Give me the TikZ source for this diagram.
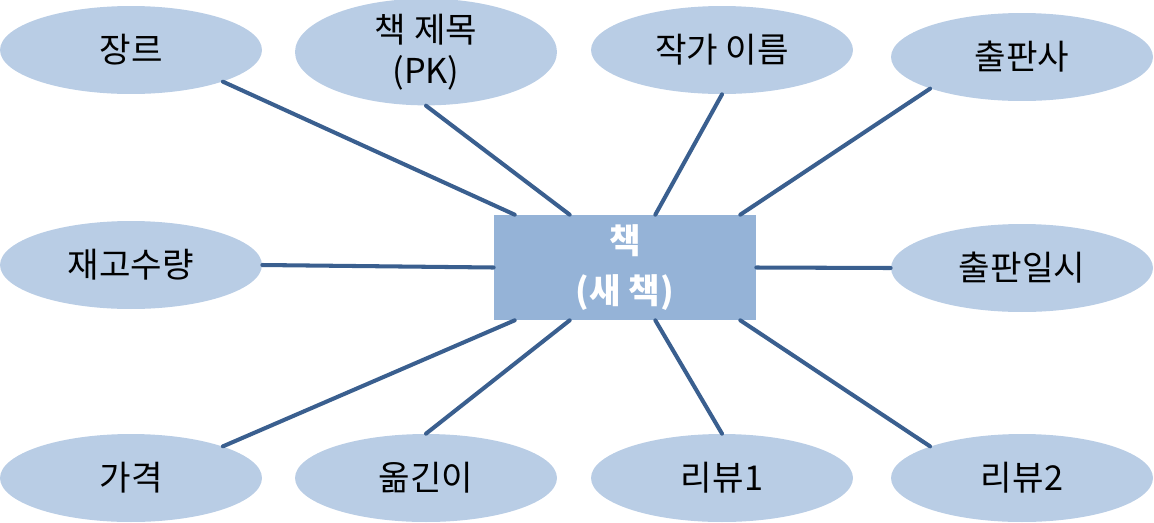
\documentclass[tikz,border=0pt]{standalone}
\usepackage{fontspec}
\setmainfont{Noto Sans CJK KR}
\usetikzlibrary{shapes.geometric}
\definecolor{attrfill}{HTML}{B9CDE5}
\definecolor{entfill}{HTML}{95B3D7}
\definecolor{linkcol}{HTML}{3A5F8F}

\begin{document}
\begin{tikzpicture}[x=0.02cm, y=-0.02cm, line join=round, line cap=round,
  attr/.style={ellipse, fill=attrfill, minimum width=5.24cm, minimum height=1.76cm, inner sep=0pt, align=center, font=\fontsize{19.5}{23}\selectfont},
  ent/.style={rectangle, fill=entfill, minimum width=5.24cm, minimum height=2.1cm, inner sep=0pt, align=center, text=white, font=\bfseries\fontsize{19.5}{28}\selectfont},
  link/.style={draw=linkcol, line width=2.3pt}]
\useasboundingbox (0,0) rectangle (1154,522);
\node[ent] (book) at (625,267.5) {책\\(새 책)};
\node[attr] (genre) at (131,50) {장르};
\node[attr] (title) at (426,52) {책 제목\\(PK)};
\node[attr] (author) at (722,50) {작가 이름};
\node[attr] (pub) at (1022,57) {출판사};
\node[attr] (stock) at (131,265) {재고수량};
\node[attr] (pubdate) at (1022,268) {출판일시};
\node[attr] (price) at (131,478) {가격};
\node[attr] (trans) at (426,478) {옮긴이};
\node[attr] (rev1) at (722,478) {리뷰1};
\node[attr] (rev2) at (1022,478) {리뷰2};
\draw[link] (genre.-19) -- ([xshift=0.42cm]book.north west);
\draw[link] (title.south) -- ([xshift=1.52cm]book.north west);
\draw[link] (author.south) -- ([xshift=-2.02cm]book.north east);
\draw[link] (pub.-161) -- ([xshift=-0.32cm]book.north east);
\draw[link] (stock.east) -- (book.west);
\draw[link] (book.east) -- (pubdate.west);
\draw[link] (price.19) -- ([xshift=0.42cm]book.south west);
\draw[link] (trans.north) -- ([xshift=1.52cm]book.south west);
\draw[link] (rev1.north) -- ([xshift=-2.02cm]book.south east);
\draw[link] (rev2.161) -- ([xshift=-0.32cm]book.south east);
\end{tikzpicture}
\end{document}
